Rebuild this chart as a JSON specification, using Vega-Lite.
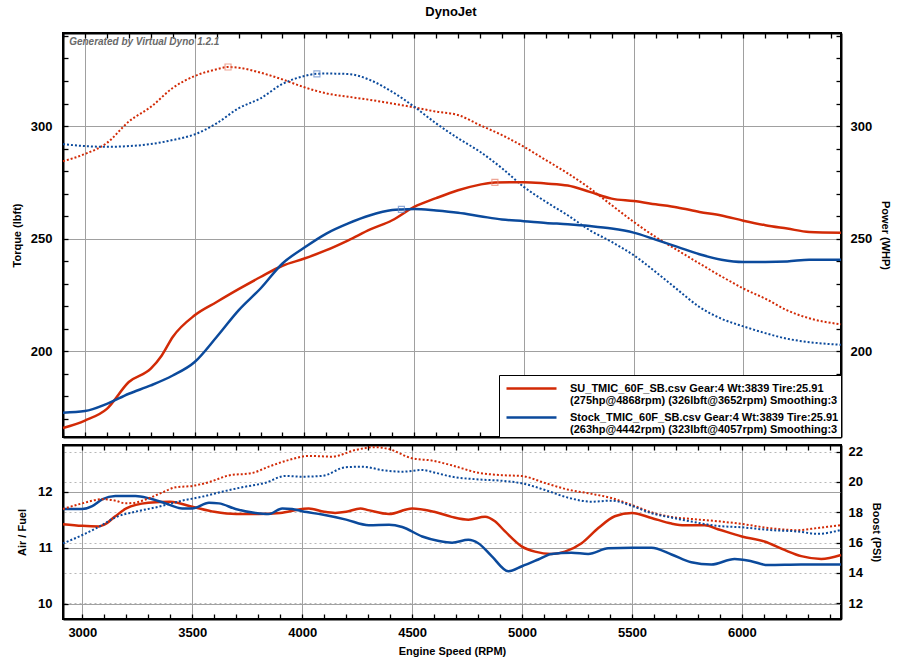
{
  "$schema": "https://vega.github.io/schema/vega-lite/v6.json",
  "background": "white",
  "padding": {"left": 10, "right": 4, "top": 6, "bottom": 4},
  "title": {"text": "DynoJet", "font": "Liberation Sans", "fontSize": 13, "fontWeight": "bold", "anchor": "middle", "offset": 12, "color": "black"},
  "config": {
    "font": "Liberation Sans",
    "view": {"stroke": "black", "strokeWidth": 2},
    "style": {"guide-label": {"lineHeight": 12.5}},
    "axis": {
      "domainColor": "black", "domainWidth": 2, "tickColor": "black", "tickWidth": 1.3, "ticks": true,
      "labelFont": "Liberation Sans", "labelFontWeight": "bold", "labelFontSize": 13, "labelColor": "black",
      "titleFont": "Liberation Sans", "titleFontWeight": "bold", "titleFontSize": 11, "titleColor": "black",
      "gridColor": "#a0a0a0", "gridWidth": 1
    }
  },
  "datasets": {
    "torque": [
      {"rpm": 2900, "run": "SU", "v": 284.4}, {"rpm": 3000, "run": "SU", "v": 287.6}, {"rpm": 3100, "run": "SU", "v": 292.5},
      {"rpm": 3200, "run": "SU", "v": 302}, {"rpm": 3300, "run": "SU", "v": 308.5}, {"rpm": 3400, "run": "SU", "v": 316.9},
      {"rpm": 3500, "run": "SU", "v": 322.2}, {"rpm": 3600, "run": "SU", "v": 325.2}, {"rpm": 3652, "run": "SU", "v": 326.2},
      {"rpm": 3700, "run": "SU", "v": 325.9}, {"rpm": 3800, "run": "SU", "v": 323.7}, {"rpm": 3900, "run": "SU", "v": 320.7},
      {"rpm": 4000, "run": "SU", "v": 317.2}, {"rpm": 4100, "run": "SU", "v": 314.5}, {"rpm": 4200, "run": "SU", "v": 313},
      {"rpm": 4300, "run": "SU", "v": 311.6}, {"rpm": 4400, "run": "SU", "v": 310}, {"rpm": 4500, "run": "SU", "v": 308.3},
      {"rpm": 4600, "run": "SU", "v": 306.4}, {"rpm": 4700, "run": "SU", "v": 304.9}, {"rpm": 4800, "run": "SU", "v": 300.4},
      {"rpm": 4900, "run": "SU", "v": 296}, {"rpm": 5000, "run": "SU", "v": 290.8}, {"rpm": 5100, "run": "SU", "v": 284.9},
      {"rpm": 5200, "run": "SU", "v": 279}, {"rpm": 5300, "run": "SU", "v": 272.4}, {"rpm": 5400, "run": "SU", "v": 264.9},
      {"rpm": 5500, "run": "SU", "v": 257.5}, {"rpm": 5600, "run": "SU", "v": 250.8}, {"rpm": 5700, "run": "SU", "v": 244.9},
      {"rpm": 5800, "run": "SU", "v": 239}, {"rpm": 5900, "run": "SU", "v": 233.3}, {"rpm": 6000, "run": "SU", "v": 227.9},
      {"rpm": 6100, "run": "SU", "v": 223.4}, {"rpm": 6200, "run": "SU", "v": 218.2}, {"rpm": 6300, "run": "SU", "v": 214.7},
      {"rpm": 6445, "run": "SU", "v": 212},
      {"rpm": 2900, "run": "Stock", "v": 292}, {"rpm": 3000, "run": "Stock", "v": 291.1}, {"rpm": 3100, "run": "Stock", "v": 290.8},
      {"rpm": 3200, "run": "Stock", "v": 291.1}, {"rpm": 3300, "run": "Stock", "v": 292}, {"rpm": 3400, "run": "Stock", "v": 293.8},
      {"rpm": 3500, "run": "Stock", "v": 296.3}, {"rpm": 3600, "run": "Stock", "v": 301.2}, {"rpm": 3700, "run": "Stock", "v": 307.9},
      {"rpm": 3800, "run": "Stock", "v": 312.3}, {"rpm": 3900, "run": "Stock", "v": 318.7}, {"rpm": 4000, "run": "Stock", "v": 322.2},
      {"rpm": 4057, "run": "Stock", "v": 323.2}, {"rpm": 4100, "run": "Stock", "v": 323.3}, {"rpm": 4200, "run": "Stock", "v": 323.1},
      {"rpm": 4300, "run": "Stock", "v": 320.4}, {"rpm": 4400, "run": "Stock", "v": 315.2}, {"rpm": 4500, "run": "Stock", "v": 308.6},
      {"rpm": 4600, "run": "Stock", "v": 301.2}, {"rpm": 4700, "run": "Stock", "v": 294.6}, {"rpm": 4800, "run": "Stock", "v": 288.6},
      {"rpm": 4900, "run": "Stock", "v": 281.3}, {"rpm": 5000, "run": "Stock", "v": 273}, {"rpm": 5100, "run": "Stock", "v": 266.4},
      {"rpm": 5200, "run": "Stock", "v": 260.4}, {"rpm": 5300, "run": "Stock", "v": 253.8}, {"rpm": 5400, "run": "Stock", "v": 248.6},
      {"rpm": 5500, "run": "Stock", "v": 242.7}, {"rpm": 5600, "run": "Stock", "v": 235.3}, {"rpm": 5700, "run": "Stock", "v": 227.4},
      {"rpm": 5800, "run": "Stock", "v": 219.7}, {"rpm": 5900, "run": "Stock", "v": 214.5}, {"rpm": 6000, "run": "Stock", "v": 211.1},
      {"rpm": 6100, "run": "Stock", "v": 208.1}, {"rpm": 6200, "run": "Stock", "v": 205.6}, {"rpm": 6300, "run": "Stock", "v": 204.1},
      {"rpm": 6445, "run": "Stock", "v": 202.9}
    ],
    "power": [
      {"rpm": 2900, "run": "SU", "v": 166}, {"rpm": 3000, "run": "SU", "v": 169.3}, {"rpm": 3100, "run": "SU", "v": 174.5},
      {"rpm": 3200, "run": "SU", "v": 186.4}, {"rpm": 3300, "run": "SU", "v": 192.3}, {"rpm": 3350, "run": "SU", "v": 198.2},
      {"rpm": 3400, "run": "SU", "v": 206.4}, {"rpm": 3500, "run": "SU", "v": 216}, {"rpm": 3600, "run": "SU", "v": 221.9},
      {"rpm": 3700, "run": "SU", "v": 227.6}, {"rpm": 3800, "run": "SU", "v": 233}, {"rpm": 3900, "run": "SU", "v": 238},
      {"rpm": 4000, "run": "SU", "v": 241.2}, {"rpm": 4100, "run": "SU", "v": 244.9}, {"rpm": 4200, "run": "SU", "v": 249.3},
      {"rpm": 4300, "run": "SU", "v": 254.1}, {"rpm": 4400, "run": "SU", "v": 258.2}, {"rpm": 4500, "run": "SU", "v": 264.1},
      {"rpm": 4600, "run": "SU", "v": 268}, {"rpm": 4700, "run": "SU", "v": 271.5}, {"rpm": 4800, "run": "SU", "v": 274},
      {"rpm": 4868, "run": "SU", "v": 275}, {"rpm": 5000, "run": "SU", "v": 275.1}, {"rpm": 5100, "run": "SU", "v": 274.5},
      {"rpm": 5200, "run": "SU", "v": 273.6}, {"rpm": 5300, "run": "SU", "v": 270.8}, {"rpm": 5400, "run": "SU", "v": 267.8},
      {"rpm": 5500, "run": "SU", "v": 266.7}, {"rpm": 5600, "run": "SU", "v": 265.3}, {"rpm": 5700, "run": "SU", "v": 263.9},
      {"rpm": 5800, "run": "SU", "v": 261.9}, {"rpm": 5900, "run": "SU", "v": 260.3}, {"rpm": 6000, "run": "SU", "v": 258},
      {"rpm": 6100, "run": "SU", "v": 256}, {"rpm": 6200, "run": "SU", "v": 254.5}, {"rpm": 6300, "run": "SU", "v": 253},
      {"rpm": 6445, "run": "SU", "v": 252.7},
      {"rpm": 2900, "run": "Stock", "v": 172.8}, {"rpm": 3000, "run": "Stock", "v": 173.5}, {"rpm": 3100, "run": "Stock", "v": 176.7},
      {"rpm": 3200, "run": "Stock", "v": 181.2}, {"rpm": 3300, "run": "Stock", "v": 184.9}, {"rpm": 3400, "run": "Stock", "v": 189.3},
      {"rpm": 3500, "run": "Stock", "v": 195.3}, {"rpm": 3600, "run": "Stock", "v": 206.4}, {"rpm": 3700, "run": "Stock", "v": 218.2},
      {"rpm": 3800, "run": "Stock", "v": 227.9}, {"rpm": 3900, "run": "Stock", "v": 239}, {"rpm": 4000, "run": "Stock", "v": 246.1},
      {"rpm": 4100, "run": "Stock", "v": 252.3}, {"rpm": 4200, "run": "Stock", "v": 256.8}, {"rpm": 4300, "run": "Stock", "v": 260.4},
      {"rpm": 4400, "run": "Stock", "v": 262.7}, {"rpm": 4442, "run": "Stock", "v": 263}, {"rpm": 4500, "run": "Stock", "v": 263.2},
      {"rpm": 4600, "run": "Stock", "v": 262.5}, {"rpm": 4700, "run": "Stock", "v": 261.5}, {"rpm": 4800, "run": "Stock", "v": 260},
      {"rpm": 4900, "run": "Stock", "v": 258.5}, {"rpm": 5000, "run": "Stock", "v": 257.8}, {"rpm": 5100, "run": "Stock", "v": 257},
      {"rpm": 5200, "run": "Stock", "v": 256.4}, {"rpm": 5300, "run": "Stock", "v": 255.6}, {"rpm": 5400, "run": "Stock", "v": 254.5},
      {"rpm": 5500, "run": "Stock", "v": 252.7}, {"rpm": 5600, "run": "Stock", "v": 249.6}, {"rpm": 5700, "run": "Stock", "v": 246.4},
      {"rpm": 5800, "run": "Stock", "v": 243.1}, {"rpm": 5900, "run": "Stock", "v": 240.7}, {"rpm": 6000, "run": "Stock", "v": 239.7},
      {"rpm": 6100, "run": "Stock", "v": 239.7}, {"rpm": 6200, "run": "Stock", "v": 239.9}, {"rpm": 6300, "run": "Stock", "v": 240.7},
      {"rpm": 6445, "run": "Stock", "v": 240.7}
    ],
    "peaks": [
      {"rpm": 3652, "run": "SU", "v": 326.2}, {"rpm": 4057, "run": "Stock", "v": 323.2},
      {"rpm": 4868, "run": "SU", "v": 275}, {"rpm": 4442, "run": "Stock", "v": 263}
    ],
    "afr": [
      {"rpm": 2912, "run": "SU", "v": 11.42}, {"rpm": 3000, "run": "SU", "v": 11.39}, {"rpm": 3075, "run": "SU", "v": 11.38},
      {"rpm": 3100, "run": "SU", "v": 11.41}, {"rpm": 3150, "run": "SU", "v": 11.56}, {"rpm": 3200, "run": "SU", "v": 11.7},
      {"rpm": 3300, "run": "SU", "v": 11.8}, {"rpm": 3400, "run": "SU", "v": 11.82}, {"rpm": 3500, "run": "SU", "v": 11.73},
      {"rpm": 3600, "run": "SU", "v": 11.64}, {"rpm": 3700, "run": "SU", "v": 11.6}, {"rpm": 3800, "run": "SU", "v": 11.6},
      {"rpm": 3900, "run": "SU", "v": 11.62}, {"rpm": 4000, "run": "SU", "v": 11.69}, {"rpm": 4030, "run": "SU", "v": 11.7},
      {"rpm": 4100, "run": "SU", "v": 11.64}, {"rpm": 4150, "run": "SU", "v": 11.62}, {"rpm": 4200, "run": "SU", "v": 11.64},
      {"rpm": 4265, "run": "SU", "v": 11.7}, {"rpm": 4300, "run": "SU", "v": 11.67}, {"rpm": 4395, "run": "SU", "v": 11.6},
      {"rpm": 4500, "run": "SU", "v": 11.7}, {"rpm": 4600, "run": "SU", "v": 11.64}, {"rpm": 4680, "run": "SU", "v": 11.55},
      {"rpm": 4756, "run": "SU", "v": 11.5}, {"rpm": 4832, "run": "SU", "v": 11.55}, {"rpm": 4877, "run": "SU", "v": 11.47},
      {"rpm": 4923, "run": "SU", "v": 11.29}, {"rpm": 5000, "run": "SU", "v": 11.02}, {"rpm": 5059, "run": "SU", "v": 10.93},
      {"rpm": 5134, "run": "SU", "v": 10.89}, {"rpm": 5195, "run": "SU", "v": 10.93}, {"rpm": 5271, "run": "SU", "v": 11.08},
      {"rpm": 5347, "run": "SU", "v": 11.35}, {"rpm": 5422, "run": "SU", "v": 11.56}, {"rpm": 5500, "run": "SU", "v": 11.62},
      {"rpm": 5589, "run": "SU", "v": 11.53}, {"rpm": 5680, "run": "SU", "v": 11.43}, {"rpm": 5740, "run": "SU", "v": 11.4},
      {"rpm": 5831, "run": "SU", "v": 11.4}, {"rpm": 5891, "run": "SU", "v": 11.33}, {"rpm": 6000, "run": "SU", "v": 11.2},
      {"rpm": 6103, "run": "SU", "v": 11.11}, {"rpm": 6194, "run": "SU", "v": 10.96}, {"rpm": 6270, "run": "SU", "v": 10.85},
      {"rpm": 6361, "run": "SU", "v": 10.8}, {"rpm": 6451, "run": "SU", "v": 10.87},
      {"rpm": 2912, "run": "Stock", "v": 11.69}, {"rpm": 3000, "run": "Stock", "v": 11.69}, {"rpm": 3045, "run": "Stock", "v": 11.74},
      {"rpm": 3090, "run": "Stock", "v": 11.86}, {"rpm": 3150, "run": "Stock", "v": 11.92}, {"rpm": 3242, "run": "Stock", "v": 11.92},
      {"rpm": 3303, "run": "Stock", "v": 11.88}, {"rpm": 3378, "run": "Stock", "v": 11.79}, {"rpm": 3454, "run": "Stock", "v": 11.7},
      {"rpm": 3500, "run": "Stock", "v": 11.7}, {"rpm": 3576, "run": "Stock", "v": 11.8}, {"rpm": 3621, "run": "Stock", "v": 11.79},
      {"rpm": 3697, "run": "Stock", "v": 11.69}, {"rpm": 3788, "run": "Stock", "v": 11.62}, {"rpm": 3848, "run": "Stock", "v": 11.6},
      {"rpm": 3909, "run": "Stock", "v": 11.7}, {"rpm": 3954, "run": "Stock", "v": 11.69}, {"rpm": 4000, "run": "Stock", "v": 11.65},
      {"rpm": 4091, "run": "Stock", "v": 11.59}, {"rpm": 4200, "run": "Stock", "v": 11.5}, {"rpm": 4303, "run": "Stock", "v": 11.4},
      {"rpm": 4395, "run": "Stock", "v": 11.41}, {"rpm": 4455, "run": "Stock", "v": 11.37}, {"rpm": 4546, "run": "Stock", "v": 11.2},
      {"rpm": 4622, "run": "Stock", "v": 11.12}, {"rpm": 4682, "run": "Stock", "v": 11.09}, {"rpm": 4756, "run": "Stock", "v": 11.14},
      {"rpm": 4801, "run": "Stock", "v": 11.08}, {"rpm": 4862, "run": "Stock", "v": 10.85}, {"rpm": 4938, "run": "Stock", "v": 10.58},
      {"rpm": 5000, "run": "Stock", "v": 10.67}, {"rpm": 5074, "run": "Stock", "v": 10.79}, {"rpm": 5134, "run": "Stock", "v": 10.89},
      {"rpm": 5225, "run": "Stock", "v": 10.91}, {"rpm": 5301, "run": "Stock", "v": 10.89}, {"rpm": 5392, "run": "Stock", "v": 10.99},
      {"rpm": 5500, "run": "Stock", "v": 11}, {"rpm": 5589, "run": "Stock", "v": 11}, {"rpm": 5680, "run": "Stock", "v": 10.88},
      {"rpm": 5770, "run": "Stock", "v": 10.74}, {"rpm": 5861, "run": "Stock", "v": 10.7}, {"rpm": 5967, "run": "Stock", "v": 10.8},
      {"rpm": 6043, "run": "Stock", "v": 10.76}, {"rpm": 6119, "run": "Stock", "v": 10.69}, {"rpm": 6270, "run": "Stock", "v": 10.7},
      {"rpm": 6451, "run": "Stock", "v": 10.7}
    ],
    "boost": [
      {"rpm": 2912, "run": "SU", "v": 18.22}, {"rpm": 3000, "run": "SU", "v": 18.59}, {"rpm": 3090, "run": "SU", "v": 18.86},
      {"rpm": 3150, "run": "SU", "v": 18.77}, {"rpm": 3196, "run": "SU", "v": 18.59}, {"rpm": 3242, "run": "SU", "v": 18.64},
      {"rpm": 3303, "run": "SU", "v": 18.93}, {"rpm": 3363, "run": "SU", "v": 19.3}, {"rpm": 3424, "run": "SU", "v": 19.65},
      {"rpm": 3500, "run": "SU", "v": 19.74}, {"rpm": 3576, "run": "SU", "v": 19.99}, {"rpm": 3666, "run": "SU", "v": 20.43},
      {"rpm": 3772, "run": "SU", "v": 20.59}, {"rpm": 3848, "run": "SU", "v": 21.01}, {"rpm": 3939, "run": "SU", "v": 21.45},
      {"rpm": 4030, "run": "SU", "v": 21.72}, {"rpm": 4136, "run": "SU", "v": 21.67}, {"rpm": 4242, "run": "SU", "v": 22.11},
      {"rpm": 4333, "run": "SU", "v": 22.3}, {"rpm": 4395, "run": "SU", "v": 22.17}, {"rpm": 4500, "run": "SU", "v": 21.56},
      {"rpm": 4592, "run": "SU", "v": 21.41}, {"rpm": 4680, "run": "SU", "v": 21.1}, {"rpm": 4801, "run": "SU", "v": 20.61},
      {"rpm": 4908, "run": "SU", "v": 20.45}, {"rpm": 5000, "run": "SU", "v": 20.39}, {"rpm": 5105, "run": "SU", "v": 19.93},
      {"rpm": 5211, "run": "SU", "v": 19.49}, {"rpm": 5316, "run": "SU", "v": 19.22}, {"rpm": 5407, "run": "SU", "v": 18.94},
      {"rpm": 5500, "run": "SU", "v": 18.48}, {"rpm": 5589, "run": "SU", "v": 18}, {"rpm": 5680, "run": "SU", "v": 17.69},
      {"rpm": 5770, "run": "SU", "v": 17.56}, {"rpm": 5891, "run": "SU", "v": 17.41}, {"rpm": 6000, "run": "SU", "v": 17.23},
      {"rpm": 6119, "run": "SU", "v": 16.97}, {"rpm": 6255, "run": "SU", "v": 16.82}, {"rpm": 6346, "run": "SU", "v": 16.97},
      {"rpm": 6451, "run": "SU", "v": 17.15},
      {"rpm": 2912, "run": "Stock", "v": 15.95}, {"rpm": 3000, "run": "Stock", "v": 16.5}, {"rpm": 3090, "run": "Stock", "v": 17.16},
      {"rpm": 3150, "run": "Stock", "v": 17.66}, {"rpm": 3242, "run": "Stock", "v": 18.04}, {"rpm": 3348, "run": "Stock", "v": 18.37},
      {"rpm": 3454, "run": "Stock", "v": 18.77}, {"rpm": 3545, "run": "Stock", "v": 19.03}, {"rpm": 3636, "run": "Stock", "v": 19.36},
      {"rpm": 3727, "run": "Stock", "v": 19.65}, {"rpm": 3833, "run": "Stock", "v": 19.95}, {"rpm": 3924, "run": "Stock", "v": 20.4},
      {"rpm": 4000, "run": "Stock", "v": 20.35}, {"rpm": 4091, "run": "Stock", "v": 20.4}, {"rpm": 4197, "run": "Stock", "v": 20.97},
      {"rpm": 4272, "run": "Stock", "v": 21.01}, {"rpm": 4379, "run": "Stock", "v": 20.75}, {"rpm": 4455, "run": "Stock", "v": 20.68},
      {"rpm": 4546, "run": "Stock", "v": 20.79}, {"rpm": 4606, "run": "Stock", "v": 20.61}, {"rpm": 4680, "run": "Stock", "v": 20.35},
      {"rpm": 4801, "run": "Stock", "v": 20.17}, {"rpm": 4908, "run": "Stock", "v": 20.08}, {"rpm": 5000, "run": "Stock", "v": 19.91},
      {"rpm": 5105, "run": "Stock", "v": 19.47}, {"rpm": 5211, "run": "Stock", "v": 18.96}, {"rpm": 5316, "run": "Stock", "v": 18.7},
      {"rpm": 5407, "run": "Stock", "v": 18.77}, {"rpm": 5500, "run": "Stock", "v": 18.42}, {"rpm": 5589, "run": "Stock", "v": 17.94},
      {"rpm": 5680, "run": "Stock", "v": 17.65}, {"rpm": 5770, "run": "Stock", "v": 17.39}, {"rpm": 5891, "run": "Stock", "v": 17.1},
      {"rpm": 6000, "run": "Stock", "v": 17.01}, {"rpm": 6119, "run": "Stock", "v": 16.84}, {"rpm": 6255, "run": "Stock", "v": 16.73},
      {"rpm": 6346, "run": "Stock", "v": 16.58}, {"rpm": 6451, "run": "Stock", "v": 16.84}
    ]
  },
  "resolve": {"scale": {"color": "independent"}},
  "spacing": 3,
  "vconcat": [
    {
      "width": 778,
      "height": 404,
      "resolve": {"axis": {"x": "independent", "y": "independent"}},
      "layer": [
        {
          "data": {"name": "torque"},
          "mark": {"type": "line", "strokeWidth": 2, "strokeDash": [2, 2], "interpolate": "monotone"},
          "encoding": {
            "x": {
              "field": "rpm", "type": "quantitative",
              "scale": {"domain": [2900, 6445], "nice": false, "zero": false},
              "axis": {
                "orient": "bottom", "title": null, "labels": false, "tickSize": -5,
                "values": [2900, 3000, 3100, 3200, 3300, 3400, 3500, 3600, 3700, 3800, 3900, 4000, 4100, 4200, 4300, 4400, 4500, 4600, 4700, 4800, 4900, 5000, 5100, 5200, 5300, 5400, 5500, 5600, 5700, 5800, 5900, 6000, 6100, 6200, 6300, 6400],
                "grid": true,
                "gridOpacity": {"condition": {"test": "datum.value % 500 === 0", "value": 1}, "value": 0}
              }
            },
            "y": {
              "field": "v", "type": "quantitative",
              "scale": {"domain": [162, 341.3], "nice": false, "zero": false},
              "axis": {
                "orient": "left", "title": "Torque (lbft)", "titlePadding": 8,
                "values": [170, 180, 190, 200, 210, 220, 230, 240, 250, 260, 270, 280, 290, 300, 310, 320, 330, 340],
                "labelExpr": "datum.value % 50 === 0 ? datum.label : ''",
                "tickSize": -5,
                "labelPadding": 16,
                "grid": true,
                "gridOpacity": {"condition": {"test": "datum.value % 50 === 0", "value": 1}, "value": 0}
              }
            },
            "color": {
              "field": "run", "type": "nominal",
              "scale": {"domain": ["SU", "Stock"], "range": ["#d22a06", "#0b4a9c"]}
            }
          }
        },
        {
          "data": {"name": "power"},
          "mark": {"type": "line", "strokeWidth": 2.5, "interpolate": "monotone"},
          "encoding": {
            "x": {
              "field": "rpm", "type": "quantitative",
              "axis": {
                "orient": "top", "title": null, "labels": false, "tickSize": -5, "grid": false,
                "values": [2900, 3000, 3100, 3200, 3300, 3400, 3500, 3600, 3700, 3800, 3900, 4000, 4100, 4200, 4300, 4400, 4500, 4600, 4700, 4800, 4900, 5000, 5100, 5200, 5300, 5400, 5500, 5600, 5700, 5800, 5900, 6000, 6100, 6200, 6300, 6400]
              }
            },
            "y": {
              "field": "v", "type": "quantitative",
              "axis": {
                "orient": "right", "title": "Power (WHP)", "titlePadding": 8, "grid": false,
                "values": [170, 180, 190, 200, 210, 220, 230, 240, 250, 260, 270, 280, 290, 300, 310, 320, 330, 340],
                "labelExpr": "datum.value % 50 === 0 ? datum.label : ''",
                "tickSize": -5,
                "labelPadding": 14
              }
            },
            "color": {
              "field": "run", "type": "nominal",
              "legend": {
                "title": null, "orient": "bottom-right", "offset": 0,
                "strokeColor": "black", "fillColor": "white", "padding": 2,
                "symbolType": "M-2.5,0H2.5", "symbolSize": 400, "symbolStrokeWidth": 2.5, "symbolDash": [1, 0], "symbolOffset": 19,
                "labelFont": "Liberation Sans", "labelFontWeight": "bold", "labelFontSize": 11, "labelColor": "black",
                "labelLimit": 400, "labelOffset": 27, "rowPadding": 0,
                "labelExpr": "datum.label == 'SU' ? ['SU_TMIC_60F_SB.csv Gear:4 Wt:3839 Tire:25.91\u00a0\u00a0\u00a0', '(275hp@4868rpm) (326lbft@3652rpm) Smoothing:3\u00a0\u00a0\u00a0'] : ['Stock_TMIC_60F_SB.csv Gear:4 Wt:3839 Tire:25.91\u00a0\u00a0\u00a0', '(263hp@4442rpm) (323lbft@4057rpm) Smoothing:3\u00a0\u00a0\u00a0']"
              }
            }
          }
        },
        {
          "data": {"name": "peaks"},
          "mark": {"type": "point", "shape": "square", "filled": false, "size": 36, "strokeWidth": 1.2},
          "encoding": {
            "x": {"field": "rpm", "type": "quantitative", "axis": null},
            "y": {"field": "v", "type": "quantitative", "axis": null},
            "stroke": {
              "field": "run", "type": "nominal",
              "scale": {"domain": ["SU", "Stock"], "range": ["#e8806a", "#5f86c8"]},
              "legend": null
            }
          }
        },
        {
          "data": {"values": [{"note": "Generated by Virtual Dyno 1.2.1"}]},
          "mark": {"type": "text", "align": "left", "baseline": "middle", "font": "Liberation Sans", "fontStyle": "italic", "fontWeight": "bold", "fontSize": 10, "color": "#6a6a6a"},
          "encoding": {
            "x": {"datum": 2928, "type": "quantitative", "axis": null},
            "y": {"datum": 337.5, "type": "quantitative", "axis": null},
            "text": {"field": "note"}
          }
        }
      ]
    },
    {
      "width": 778,
      "height": 174,
      "resolve": {"axis": {"x": "independent"}, "scale": {"y": "independent"}},
      "layer": [
        {
          "data": {"name": "afr"},
          "mark": {"type": "line", "strokeWidth": 2.5, "interpolate": "monotone"},
          "encoding": {
            "x": {
              "field": "rpm", "type": "quantitative",
              "scale": {"domain": [2912, 6451], "nice": false, "zero": false},
              "axis": {
                "orient": "bottom", "title": "Engine Speed (RPM)", "titlePadding": 6, "tickSize": -5, "labelPadding": 12,
                "format": "d",
                "values": [3000, 3100, 3200, 3300, 3400, 3500, 3600, 3700, 3800, 3900, 4000, 4100, 4200, 4300, 4400, 4500, 4600, 4700, 4800, 4900, 5000, 5100, 5200, 5300, 5400, 5500, 5600, 5700, 5800, 5900, 6000, 6100, 6200, 6300, 6400],
                "labelExpr": "datum.value % 500 === 0 ? datum.label : ''",
                "labelFlush": false,
                "grid": true,
                "gridOpacity": {"condition": {"test": "datum.value % 500 === 0", "value": 1}, "value": 0}
              }
            },
            "y": {
              "field": "v", "type": "quantitative",
              "scale": {"domain": [9.73, 12.83], "nice": false, "zero": false},
              "axis": {"orient": "left", "title": "Air / Fuel", "titlePadding": 10, "values": [10, 11, 12], "grid": true, "tickSize": -5, "labelPadding": 16}
            },
            "color": {
              "field": "run", "type": "nominal",
              "scale": {"domain": ["SU", "Stock"], "range": ["#d22a06", "#0b4a9c"]},
              "legend": null
            }
          }
        },
        {
          "data": {"name": "boost"},
          "mark": {"type": "line", "strokeWidth": 2, "strokeDash": [2, 2], "interpolate": "monotone"},
          "encoding": {
            "x": {
              "field": "rpm", "type": "quantitative",
              "axis": {
                "orient": "top", "title": null, "labels": false, "tickSize": -5, "grid": false,
                "values": [3000, 3100, 3200, 3300, 3400, 3500, 3600, 3700, 3800, 3900, 4000, 4100, 4200, 4300, 4400, 4500, 4600, 4700, 4800, 4900, 5000, 5100, 5200, 5300, 5400, 5500, 5600, 5700, 5800, 5900, 6000, 6100, 6200, 6300, 6400]
              }
            },
            "y": {
              "field": "v", "type": "quantitative",
              "scale": {"domain": [10.96, 22.44], "nice": false, "zero": false},
              "axis": {
                "orient": "right", "title": "Boost (PSI)", "titlePadding": 8, "values": [12, 14, 16, 18, 20, 22],
                "grid": true, "gridDash": [2, 3], "gridColor": "#b8b8b8", "tickSize": -5, "labelPadding": 12
              }
            },
            "color": {"field": "run", "type": "nominal", "legend": null}
          }
        }
      ]
    }
  ]
}
